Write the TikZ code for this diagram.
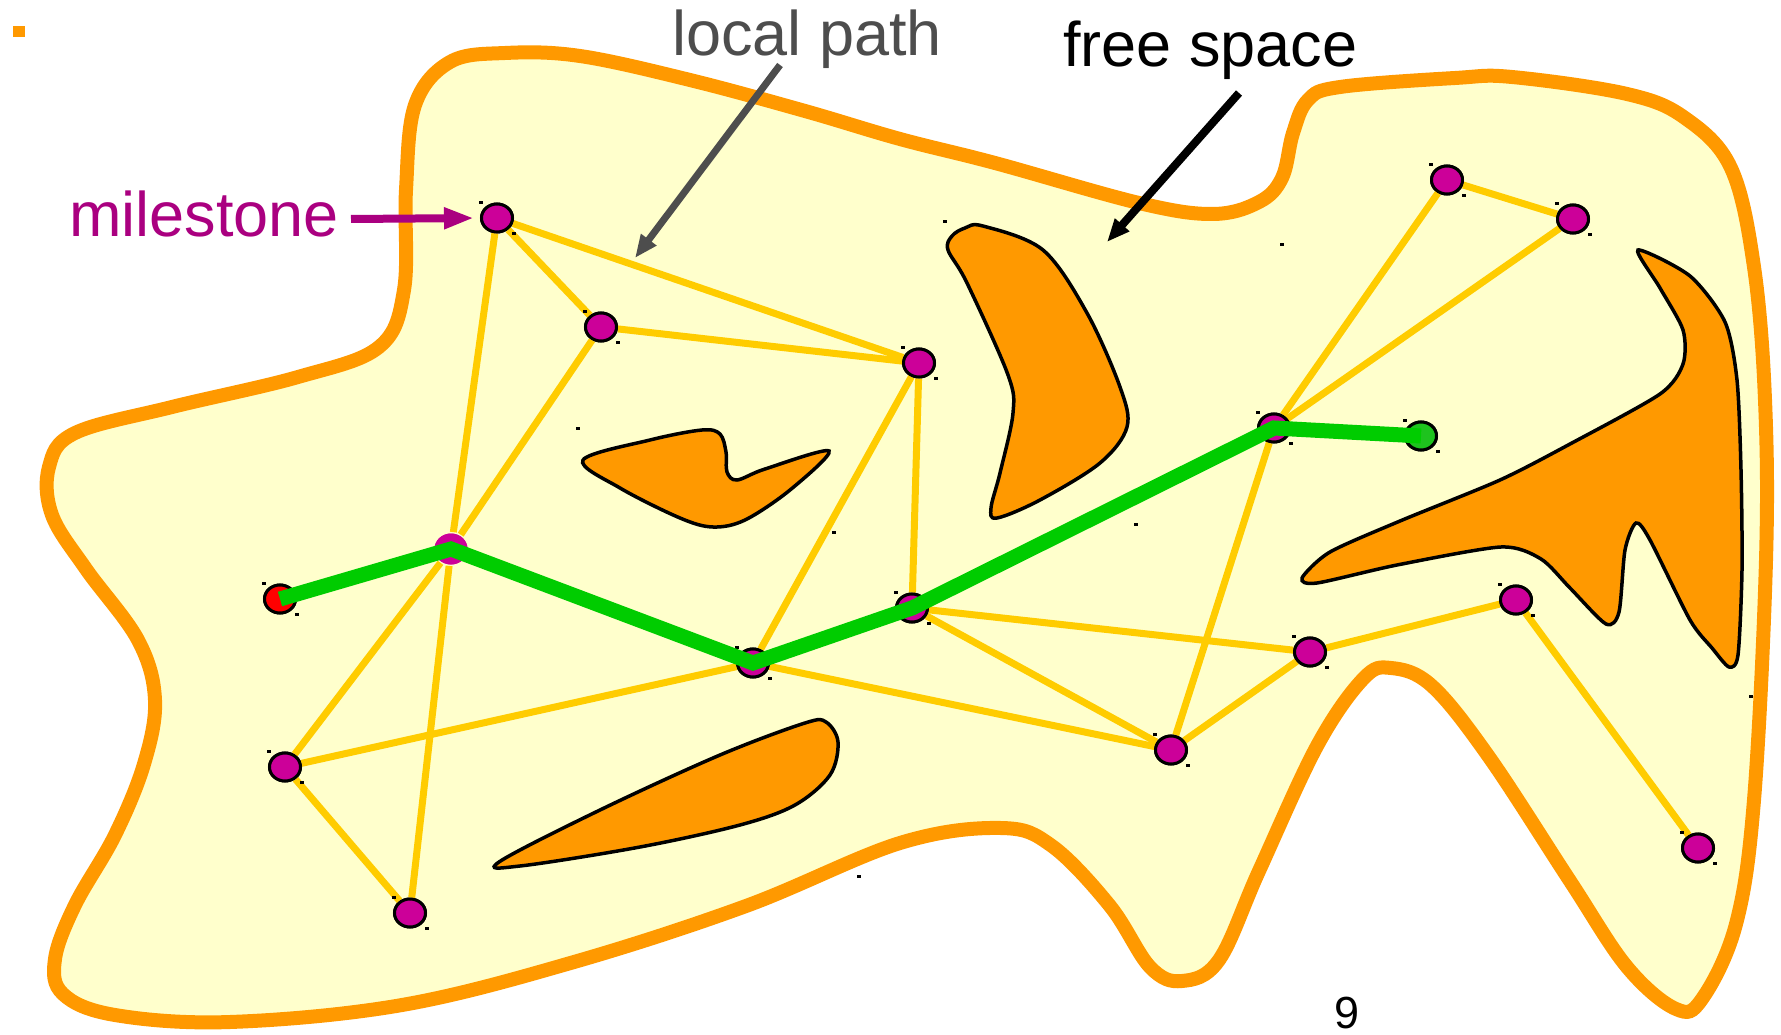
\documentclass[tikz,border=0pt]{standalone}
\usepackage{fontspec}
\setmainfont{Liberation Sans}
\usetikzlibrary{arrows.meta,shapes.geometric}
\definecolor{freeyel}{RGB}{255,255,204}
\definecolor{obstor}{RGB}{255,153,0}
\definecolor{edgeyel}{RGB}{255,204,0}
\definecolor{msmag}{RGB}{204,0,153}
\definecolor{mslabel}{RGB}{170,0,128}
\definecolor{pathgrn}{RGB}{0,204,0}
\definecolor{goalgrn}{RGB}{30,195,30}
\definecolor{lpgray}{RGB}{77,77,77}
\tikzset{
  ms/.style     ={ellipse,draw,line width=3pt,fill=msmag,minimum width=31pt,minimum height=28pt,inner sep=0pt},
  msbare/.style ={ms,draw=none,minimum width=33pt,minimum height=31pt},
  startpt/.style={ms,fill=red},
  goalpt/.style ={ms,fill=goalgrn},
  prm/.style    ={edgeyel,line width=7pt},
  lpath/.style  ={pathgrn,line width=15pt},
  obst/.style   ={fill=obstor,draw=black,line width=3.5pt},
  bigtxt/.style ={font=\fontsize{63}{70}\selectfont,inner sep=0pt,anchor=base west},
  callout/.style={line width=7pt,-{Triangle[length=23pt,width=18pt]}},
}

\begin{document}
\begin{tikzpicture}[x=1pt,y=-1pt]
  \useasboundingbox (0,0) rectangle (1781,1035);
  \fill[obstor] (13,26) rectangle (25,37);
  % free space
  \draw[obstor,line width=14pt,fill=freeyel] plot[smooth cycle,tension=0.6] coordinates {
    (404,290) (406,190) (415,105) (450,62) (505,53) (580,56) (690,80) (805,111) (900,139)
    (995,163) (1139,203) (1213,214) (1259,202) (1282,178) (1293,133) (1308,100) (1340,87)
    (1455,78) (1512,77) (1627,94) (1685,118) (1731,168) (1754,267) (1765,400) (1766,560)
    (1754,800) (1736,924) (1702,999) (1676,1009) (1627,967) (1570,881) (1489,757) (1432,686)
    (1391,668) (1363,679) (1317,746) (1259,871) (1219,960) (1182,981) (1150,967) (1110,906)
    (1052,846) (1001,828) (900,843) (746,906) (574,962) (402,1005) (230,1022) (115,1015)
    (63,994) (55,959) (75,905) (115,835) (144,764) (155,700) (138,640) (86,569) (52,515)
    (49,467) (75,433) (172,407) (298,377) (379,347)};
  % obstacles
  \draw[obst] plot[smooth cycle,tension=0.55] coordinates {
    (583,460) (650,440) (702,430) (720,434) (726,452) (727,472) (737,480) (765,469) (829,451)
    (790,490) (745,520) (713,527) (680,518) (620,488)};
  \draw[obst] plot[smooth cycle,tension=0.55] coordinates {
    (983,226) (1043,250) (1087,313) (1120,387) (1127,427) (1100,463) (1040,500) (997,518)
    (991,508) (1000,473) (1013,413) (1008,375) (967,283) (948,250) (952,236) (965,228)};
  \draw[obst] plot[smooth cycle,tension=0.55] coordinates {
    (499,862) (600,810) (720,755) (805,723) (826,722) (838,742) (830,775) (795,805)
    (740,825) (640,847) (520,866)};
  \draw[obst] plot[smooth cycle,tension=0.45] coordinates {
    (1638,250) (1690,276) (1725,322) (1737,380) (1741,470) (1742,570) (1738,655) (1729,667)
    (1712,648) (1690,620) (1650,540) (1636,523) (1625,550) (1619,612) (1606,624)
    (1570,588) (1541,559) (1501,547) (1397,565) (1317,583) (1302,578) (1330,552)
    (1400,521) (1500,480) (1570,444) (1660,394) (1683,364) (1683,330) (1660,288)};
  % roadmap
  \node[ms]      (m1)  at (497,218) {};
  \node[ms]      (m2)  at (601,327) {};
  \node[ms]      (m3)  at (919,363) {};
  \node[msbare]  (m4)  at (451,549) {};
  \node[ms]      (m5)  at (753,663) {};
  \node[ms]      (m6)  at (912,608) {};
  \node[ms]      (m7)  at (285,767) {};
  \node[ms]      (m8)  at (410,913) {};
  \node[ms]      (m9)  at (1171,750) {};
  \node[ms]      (m10) at (1310,652) {};
  \node[ms]      (m11) at (1516,600) {};
  \node[ms]      (m12) at (1698,848) {};
  \node[ms]      (m13) at (1274,428) {};
  \node[ms]      (m14) at (1447,180) {};
  \node[ms]      (m15) at (1573,219) {};
  \node[startpt] (qs)  at (280,599) {};
  \node[goalpt]  (qg)  at (1421,436) {};
  \foreach \a/\b in {m1/m2,m1/m3,m1/m4,m2/m3,m2/m4,m4/m7,m4/m8,m7/m8,m7/m5,m5/m3,
                     m3/m6,m5/m9,m6/m9,m6/m10,m9/m10,m10/m11,m11/m12,m9/m13,
                     m13/m14,m13/m15,m14/m15}
    \draw[prm] (\a) -- (\b);
  % nodes again on top of the edges
  \foreach \n/\s in {m1/ms,m2/ms,m3/ms,m4/msbare,m5/ms,m6/ms,m7/ms,m8/ms,m9/ms,m10/ms,
                     m11/ms,m12/ms,m13/ms,m14/ms,m15/ms,qs/startpt,qg/goalpt}{
    \node[\s] at (\n) {};
  }
  \foreach \n in {m1,m2,m3,m5,m6,m7,m8,m9,m10,m11,m12,m13,m14,m15,qs,qg}{
    \fill (\n) ++(-18,-17) rectangle ++(4,3);
    \fill (\n) ++(15,14) rectangle ++(4,3);
  }
  \foreach \x/\y in {943/220,1280/243,576/427,832/531,857/875,1134/523,1749/695}
    \fill (\x,\y) rectangle ++(4,3);
  % local path
  \draw[lpath] (qs.center) -- (m4.center) -- (m5.center) -- (m6.center) -- (m13.center) -- (qg.center);
  % labels
  \node[bigtxt,text=lpgray] (lplbl) at (672,56) {local path};
  \node[bigtxt]             (fslbl) at (1063,67) {free space};
  \node[bigtxt,text=mslabel] (mslbl) at (69,237) {milestone};
  \node[font=\fontsize{45}{50}\selectfont,inner sep=0pt,anchor=base west] (pgnum) at (1334,1028) {9};
  \coordinate (lptail) at (780,65);
  \coordinate (lptip)  at (635,258);
  \coordinate (fstail) at (1239,93);
  \coordinate (fstip)  at (1107,242);
  \coordinate (mstail) at (351,219);
  \draw[callout,lpgray] (lptail) -- (lptip);
  \draw[callout,black,line width=8pt] (fstail) -- (fstip);
  \draw[mslabel,line width=8pt,-{Triangle[length=30pt,width=20pt]},shorten >=6pt] (mstail) -- (m1.west);
\end{tikzpicture}
\end{document}
